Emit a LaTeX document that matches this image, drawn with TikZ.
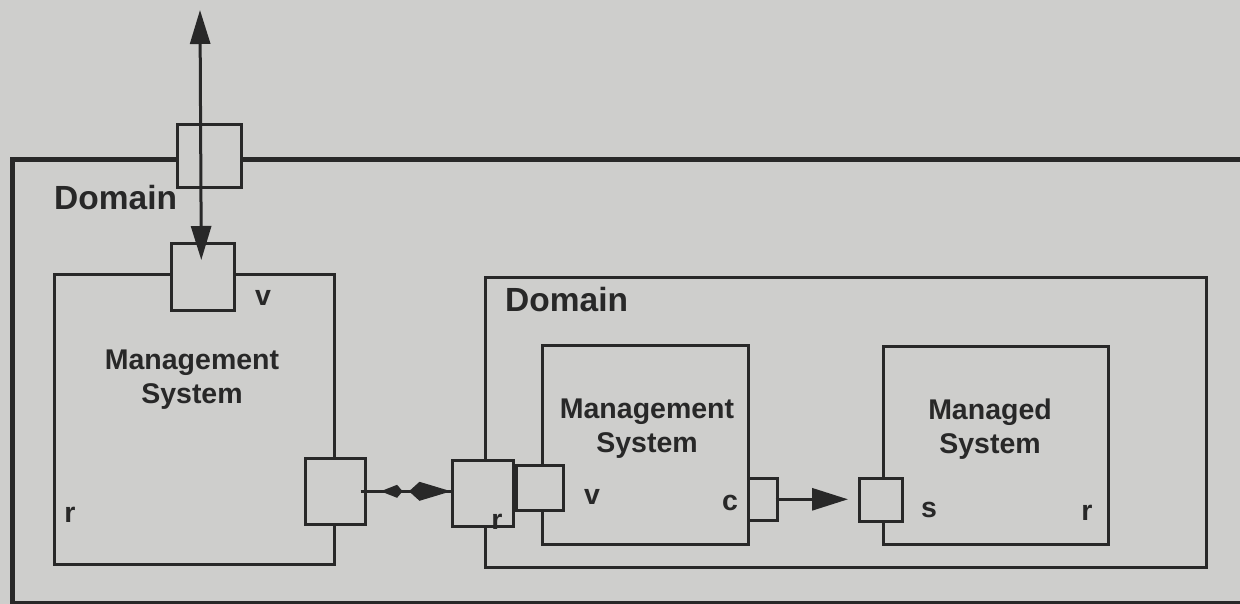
\documentclass[tikz,border=0pt]{standalone}
\usepackage{fontspec}
\setmainfont{Liberation Sans}
\usetikzlibrary{arrows.meta,calc}
\definecolor{paper}{RGB}{206,206,204}
\definecolor{ink}{RGB}{40,40,40}
\begin{document}
\begin{tikzpicture}[x=1pt,y=-1pt,
  box/.style={draw=ink,line width=3pt,inner sep=0pt,anchor=north west},
  port/.style={box,fill=paper,line width=2.6pt},
  lbl/.style={text=ink,font=\bfseries\fontsize{28.5}{34}\selectfont,inner sep=0pt,align=center},
  title/.style={text=ink,font=\bfseries\fontsize{33.5}{38}\selectfont,inner sep=0pt,anchor=west},
  conn/.style={draw=ink,line width=3pt}]
\fill[paper] (0,0) rectangle (1240,604);
\useasboundingbox (0,0) rectangle (1240,604);
% boxes
\node[box,line width=5pt,minimum width=1262pt,minimum height=444pt] (dom1) at (10,157) {};
\node[box,minimum width=280pt,minimum height=290pt] (ms1) at (53,273) {};
\node[box,minimum width=721pt,minimum height=290pt] (dom2) at (484,276) {};
\node[box,minimum width=206pt,minimum height=199pt] (ms2) at (541,344) {};
\node[box,minimum width=225pt,minimum height=198pt] (mgd) at (882,345) {};
% ports
\node[port,minimum width=64pt,minimum height=63pt] (ptop) at (176,123) {};
\node[port,minimum width=63pt,minimum height=67pt] (pv1) at (170,242) {};
\node[port,minimum width=60pt,minimum height=66pt] (pr1) at (304,457) {};
\node[port,minimum width=61pt,minimum height=66pt] (pr2) at (451,459) {};
\node[port,minimum width=47pt,minimum height=45pt] (pv2) at (515,464) {};
\node[port,minimum width=29pt,minimum height=42pt] (pc) at (747,477) {};
\node[port,minimum width=43pt,minimum height=43pt] (ps) at (858,477) {};
% connectors
\coordinate (atop) at (200,10);
\draw[conn,{Triangle[length=34pt,width=20pt]}-{Triangle[length=34pt,width=20pt]}] (atop) -- ($(pv1.north)+(-1.5,18)$);
\draw[conn] ($(pr1.east)+(-6,0)$) -- (pr2.west |- pr1.east);
\draw[conn,{Kite[length=22pt,width=13pt]}-{Kite[length=42pt,width=19pt]},shorten <=14pt] (pr1.east) -- (pr2.west |- pr1.east);
\draw[conn,-{Triangle[length=36pt,width=22pt]},shorten >=10pt] ($(pc.east)+(-3,0)$) -- (ps.west |- pc.east);
% labels
\node[title] (d1) at (54,198) {Domain};
\node[title] (d2) at (505,300) {Domain};
\node[lbl] (ms1t) at (192,380) {Management\\System};
\node[lbl] (v1) at (263,298) {v};
\node[lbl] (r1) at (70,515) {r};
\node[lbl] (ms2t) at (647,429) {Management\\System};
\node[lbl] (r2) at (497,522) {r};
\node[lbl] (v2) at (592,497) {v};
\node[lbl] (c1) at (730,503) {c};
\node[lbl] (mgdt) at (990,429) {Managed\\System};
\node[lbl] (s1) at (929,510) {s};
\node[lbl] (r3) at (1087,513) {r};
\end{tikzpicture}
\end{document}
